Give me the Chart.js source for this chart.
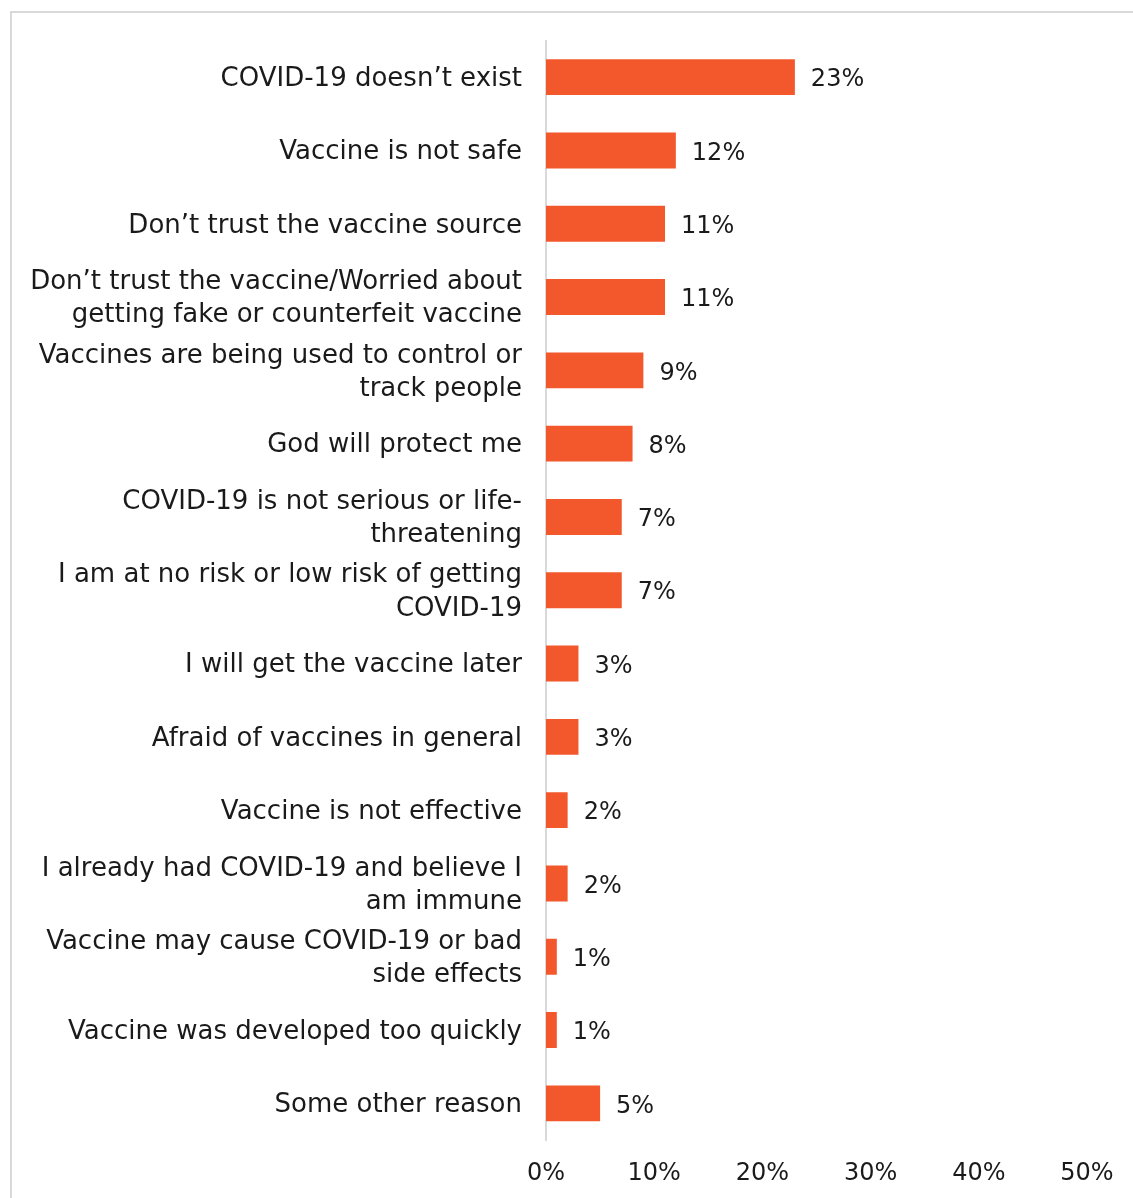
<!DOCTYPE html>
<html>
<head>
<meta charset="utf-8">
<script src="https://cdn.jsdelivr.net/npm/chart.js@4.4.1/dist/chart.umd.min.js"></script>
<style>
  html, body { margin: 0; padding: 0; background: #fff; overflow: hidden; }
  #frame {
    position: absolute; left: 10px; top: 11px; width: 1300px; height: 1300px;
    border-left: 2px solid #d9d9d9; border-top: 2px solid #d9d9d9;
  }
  #chart { position: absolute; left: 0; top: 0; }
</style>
</head>
<body>
<div id="frame"></div>
<canvas id="chart" width="1133" height="1198"></canvas>
<script>
// Reasons for not wanting the vaccine, share of respondents (%)
const reasons = [
  'COVID-19 doesn\u2019t exist',
  'Vaccine is not safe',
  'Don\u2019t trust the vaccine source',
  ['Don\u2019t trust the vaccine/Worried about', 'getting fake or counterfeit vaccine'],
  ['Vaccines are being used to control or', 'track people'],
  'God will protect me',
  ['COVID-19 is not serious or life-', 'threatening'],
  ['I am at no risk or low risk of getting', 'COVID-19'],
  'I will get the vaccine later',
  'Afraid of vaccines in general',
  'Vaccine is not effective',
  ['I already had COVID-19 and believe I', 'am immune'],
  ['Vaccine may cause COVID-19 or bad', 'side effects'],
  'Vaccine was developed too quickly',
  'Some other reason'
];
const shares = [23, 12, 11, 11, 9, 8, 7, 7, 3, 3, 2, 2, 1, 1, 5];
const xTicks = [0, 10, 20, 30, 40, 50];

const FONT = '"DejaVu Sans", "Open Sans", sans-serif';
const TEXT = '#1a1a1a';
const BAR = '#F2582B';

// Writes "n%" just right of each bar end
const valueLabels = {
  id: 'valueLabels',
  afterDatasetsDraw(chart) {
    const ctx = chart.ctx;
    const meta = chart.getDatasetMeta(0);
    ctx.save();
    ctx.font = '24px ' + FONT;
    ctx.fillStyle = TEXT;
    ctx.textAlign = 'left';
    ctx.textBaseline = 'middle';
    meta.data.forEach((bar, i) => {
      ctx.fillText(shares[i] + '%', bar.x + 16, bar.y + 3);
    });
    ctx.restore();
  }
};

new Chart(document.getElementById('chart'), {
  type: 'bar',
  data: {
    labels: reasons,
    datasets: [{
      data: shares,
      backgroundColor: BAR,
      borderWidth: 0,
      barPercentage: 0.98,
      categoryPercentage: 0.5
    }]
  },
  options: {
    indexAxis: 'y',
    responsive: false,
    devicePixelRatio: 1,
    animation: false,
    layout: { padding: { top: 40, right: 46, left: 10, bottom: 0 } },
    plugins: { legend: { display: false }, tooltip: { enabled: false } },
    scales: {
      x: {
        min: 0,
        max: 50,
        afterBuildTicks(scale) {
          scale.ticks = xTicks.map(v => ({ value: v }));
        },
        afterFit(scale) { scale.height = 58; },
        grid: { display: false, drawTicks: false },
        border: { display: false },
        ticks: {
          padding: 19,
          color: TEXT,
          font: { family: FONT, size: 24 },
          callback: v => v + '%'
        }
      },
      y: {
        afterFit(scale) { scale.width = 536; },
        grid: { display: false, drawTicks: false },
        border: { display: true, color: '#d9d9d9', width: 2 },
        ticks: {
          padding: 24,
          labelOffset: 2,
          color: TEXT,
          font: { family: FONT, size: 26, lineHeight: 1.27 }
        }
      }
    }
  },
  plugins: [valueLabels]
});
</script>
</body>
</html>
